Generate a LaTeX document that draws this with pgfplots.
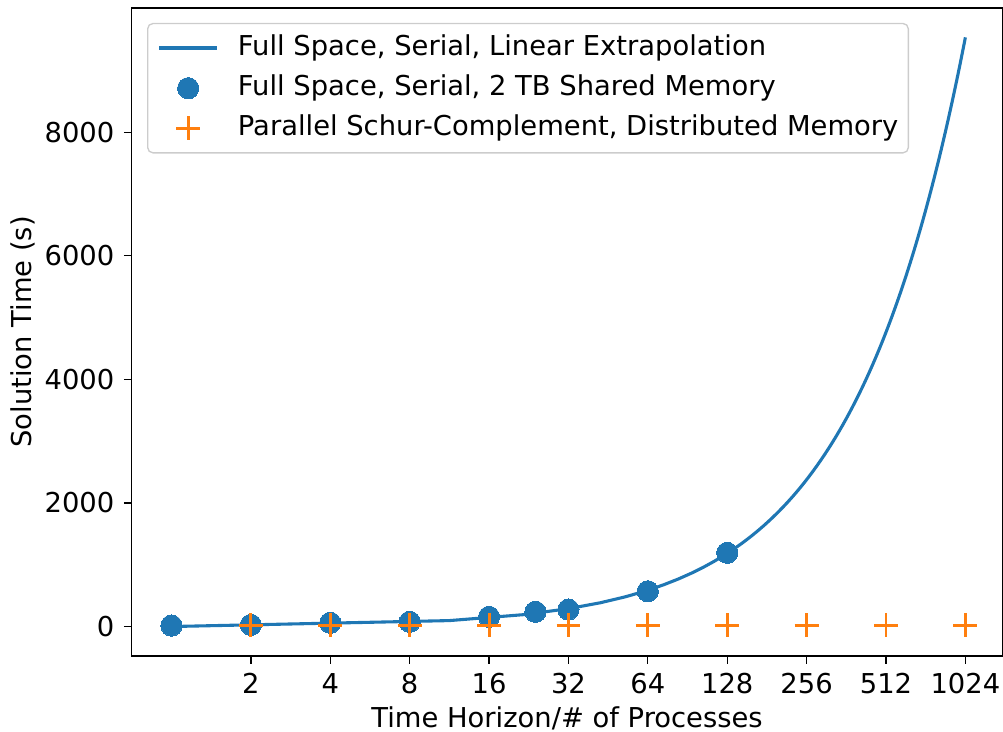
\documentclass[border=0pt]{standalone}
\usepackage{fontspec}
\setmainfont{DejaVu Sans}
\usepackage{pgfplots}
\usepackage{pgfplotstable}
\pgfplotsset{compat=1.18}
\definecolor{tabblue}{HTML}{1F77B4}
\definecolor{taborange}{HTML}{FF7F0E}
\pgfplotsset{
  lineleg/.style={legend image code/.code={\draw[##1] (0bp,0bp) -- (26.3bp,0bp); \path (35.0bp,0bp);}},
  markleg/.style={legend image code/.code={\path (0bp,0bp); \draw[##1] plot coordinates {(13.15bp,0bp)}; \path (35.0bp,0bp);}},
}

\pgfplotstableread{
x y
1 0
11.33 96.3
21.67 192.6
32.00 288.9
42.33 385.2
52.67 481.6
63.00 577.9
73.33 674.2
83.67 770.5
94.00 866.8
104.33 963.1
114.67 1059.4
125.00 1155.7
135.33 1252.0
145.67 1348.3
156.00 1444.7
166.33 1541.0
176.67 1637.3
187.00 1733.6
197.33 1829.9
207.67 1926.2
218.00 2022.5
228.33 2118.8
238.67 2215.1
249.00 2311.4
259.33 2407.8
269.67 2504.1
280.00 2600.4
290.33 2696.7
300.67 2793.0
311.00 2889.3
321.33 2985.6
331.67 3081.9
342.00 3178.2
352.33 3274.5
362.67 3370.9
373.00 3467.2
383.33 3563.5
393.67 3659.8
404.00 3756.1
414.33 3852.4
424.67 3948.7
435.00 4045.0
445.33 4141.3
455.67 4237.6
466.00 4334.0
476.33 4430.3
486.67 4526.6
497.00 4622.9
507.33 4719.2
517.67 4815.5
528.00 4911.8
538.33 5008.1
548.67 5104.4
559.00 5200.7
569.33 5297.1
579.67 5393.4
590.00 5489.7
600.33 5586.0
610.67 5682.3
621.00 5778.6
631.33 5874.9
641.67 5971.2
652.00 6067.5
662.33 6163.8
672.67 6260.2
683.00 6356.5
693.33 6452.8
703.67 6549.1
714.00 6645.4
724.33 6741.7
734.67 6838.0
745.00 6934.3
755.33 7030.6
765.67 7126.9
776.00 7223.3
786.33 7319.6
796.67 7415.9
807.00 7512.2
817.33 7608.5
827.67 7704.8
838.00 7801.1
848.33 7897.4
858.67 7993.7
869.00 8090.0
879.33 8186.4
889.67 8282.7
900.00 8379.0
910.33 8475.3
920.67 8571.6
931.00 8667.9
941.33 8764.2
951.67 8860.5
962.00 8956.8
972.33 9053.1
982.67 9149.5
993.00 9245.8
1003.33 9342.1
1013.67 9438.4
1024.00 9534.7
}\linedata

\pgfplotstableread{
x y
1 16
2 27
4 60
8 76
16 157
24 238
32 275
64 571
128 1193
}\shareddata

\pgfplotstableread{
x y
2 20
4 20
8 20
16 20
32 20
64 20
128 20
256 20
512 20
1024 20
}\paralleldata

\begin{document}
\fontsize{12.4bp}{14.9bp}\selectfont
\begin{tikzpicture}
\begin{axis}[
  scale only axis,
  width=394.4bp, height=293.6bp,
  xmode=log, log basis x=2,
  xmin=0.7071, xmax=1414,
  ymin=-477, ymax=10011,
  scaled x ticks=false, scaled y ticks=false,
  xtick={2,4,8,16,32,64,128,256,512,1024},
  xticklabels={2,4,8,16,32,64,128,256,512,1024},
  ytick={0,2000,4000,6000,8000},
  yticklabels={0,2000,4000,6000,8000},
  minor tick num=0,
  xminorticks=false,
  tick align=outside,
  major tick length=3.6bp,
  tick style={black, line width=0.6bp},
  axis line style={black, line width=0.6bp},
  xtick pos=bottom, ytick pos=left,
  /pgf/number format/assume math mode=true,
  tick label style={font=\fontsize{12.4bp}{14.9bp}\selectfont},
  label style={font=\fontsize{12.4bp}{14.9bp}\selectfont},
  xlabel={Time Horizon/\# of Processes},
  ylabel={Solution Time (s)},
  xlabel style={at={(axis description cs:0.5,0)}, anchor=base, yshift=-32.2bp},
  ylabel style={at={(axis description cs:-0.1149,0.5)}, anchor=base},
  legend cell align=left,
  legend style={
    at={(0.0175,0.977)}, anchor=north west,
    draw=black!20, line width=0.6bp, rounded corners=2.4bp,
    fill=white,
    font=\fontsize{12.4bp}{14.9bp}\selectfont,
    inner xsep=4.5bp, inner ysep=2bp,
    row sep=0bp,
    nodes={inner xsep=0bp, inner ysep=3.0bp, text height=9.3bp, text depth=2.9bp},
  },
]
\addplot[color=tabblue, line width=1.4bp, no markers, lineleg]
  table[x=x,y=y] {\linedata};
\addlegendentry{Full Space, Serial, Linear Extrapolation}
\addplot[only marks, mark=*, mark size=4.8bp, color=tabblue, mark options={draw=tabblue, fill=tabblue, line width=0bp}, markleg]
  table[x=x,y=y] {\shareddata};
\addlegendentry{Full Space, Serial, 2 TB Shared Memory}
\addplot[only marks, mark=+, mark size=5.4bp, color=taborange, mark options={line width=1.35bp}, markleg]
  table[x=x,y=y] {\paralleldata};
\addlegendentry{Parallel Schur-Complement, Distributed Memory}
\coordinate (sw) at (rel axis cs:0,0);
\coordinate (ne) at (rel axis cs:1,1);
\end{axis}
\pgfresetboundingbox
\path ([xshift=-59.7bp,yshift=-34.4bp]sw) rectangle ([xshift=0.3bp,yshift=3.6bp]ne);
\end{tikzpicture}
\end{document}
